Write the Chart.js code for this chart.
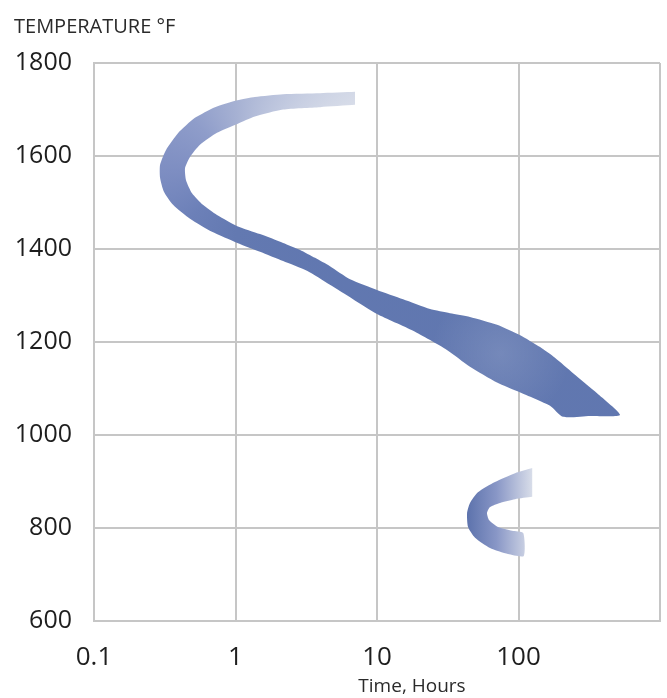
<!DOCTYPE html>
<html>
<head>
<meta charset="utf-8">
<script src="https://cdn.jsdelivr.net/npm/chart.js@4.4.1/dist/chart.umd.min.js"></script>
<style>
    html, body { margin: 0; padding: 0; background: #fff; }
    canvas { display: block; }
</style>
</head>
<body>
<canvas id="chart" width="667" height="698"></canvas>
<script>

// x axis: time in hours (log), y axis: temperature in °F
const timeTicks = [0.1, 1, 10, 100, 1000]
const timeTickLabels = ["0.1", "1", "10", "100", ""]
const tempMin = 600
const tempMax = 1800
const tempStep = 200

// upper band, [hours, °F] - outer edge from the top end round the nose down to the tip
const upperOuter = [
    [6.99, 1738], [3.96, 1735], [2.17, 1733], [1.37, 1727], [1.03, 1720], [0.716, 1705],
    [0.517, 1682], [0.392, 1649], [0.323, 1613], [0.293, 1581], [0.293, 1553], [0.312, 1523],
    [0.362, 1495], [0.477, 1465], [0.682, 1437], [1.03, 1413], [1.49, 1394], [2.17, 1374],
    [3.20, 1353], [4.65, 1323], [6.77, 1292], [10.0, 1260], [18.0, 1224], [31.2, 1183],
    [45.4, 1147], [70.5, 1113], [102, 1092], [167, 1063], [206, 1039], [320, 1041]
]
// ...and the inner edge from the tip back to the top end
const upperInner = [
    [522, 1043], [359, 1090], [243, 1133], [181, 1166], [142, 1189], [102, 1215],
    [70.5, 1237], [45.4, 1254], [32.8, 1262], [23.7, 1271], [15.3, 1292], [10.0, 1312],
    [6.45, 1335], [4.65, 1363], [3.65, 1381], [2.86, 1398], [2.17, 1413], [1.49, 1432],
    [1.03, 1449], [0.740, 1473], [0.589, 1495], [0.493, 1520], [0.447, 1548], [0.440, 1574],
    [0.477, 1598], [0.561, 1624], [0.740, 1650], [1.03, 1669], [1.37, 1685], [2.17, 1700],
    [3.96, 1705], [6.99, 1710]
]

// lower band (small nose around 800-900 °F)
const lowerOuter = [
    [125, 929], [94.5, 918], [68.2, 899], [51.7, 877], [45.4, 854], [43.3, 832],
    [44.0, 802], [49.3, 779], [62.9, 757], [84.3, 744], [109, 740]
]
const lowerInner = [
    [108, 789], [90, 794], [71.6, 802], [61.9, 817], [59.9, 832], [62.9, 845],
    [74, 854], [94.5, 862], [125, 867]
]

const toPoints = (edges) => edges.flat().map(p => ({ x: p[0], y: p[1] }))

const gridColor = "#c6c6c6"
const textColor = "#1e1e1e"
const fontFamily = "'Open Sans', 'Noto Sans', sans-serif"

// fills each outline with its gradient, using the points chart.js placed
const bandFill = {
    id: "bandFill",
    beforeDatasetsDraw(chart) {
        const ctx = chart.ctx
        const xs = chart.scales.x
        const ys = chart.scales.y
        chart.data.datasets.forEach((ds, i) => {
            const meta = chart.getDatasetMeta(i)
            const line = meta.dataset
            if (!line) return
            line.updateControlPoints(chart.chartArea, "x")
            ctx.save()
            ctx.beginPath()
            line.path(ctx)
            ctx.closePath()
            ctx.fillStyle = ds.shade(ctx, xs, ys)
            ctx.fill()
            if (ds.glow) {
                ctx.fillStyle = ds.glow(ctx, xs, ys)
                ctx.fill()
            }
            ctx.restore()
        })
    }
}

// "Time, Hours" sits a little right of the plot centre
const axisCaption = {
    id: "axisCaption",
    afterDraw(chart) {
        const ctx = chart.ctx
        const xs = chart.scales.x
        ctx.save()
        ctx.font = "19px " + fontFamily
        ctx.fillStyle = "#2a2a2a"
        ctx.textAlign = "center"
        ctx.textBaseline = "middle"
        ctx.fillText("Time, Hours", (xs.left + xs.right) / 2 + 35, 687)
        ctx.restore()
    }
}

const upperShade = (ctx, xs, ys) => {
    const g = ctx.createConicGradient(0, xs.getPixelForValue(1.08), ys.getPixelForValue(1570))
    g.addColorStop(0, "#5f76af")
    g.addColorStop(0.26, "#6379b1")
    g.addColorStop(0.38, "#6c80b8")
    g.addColorStop(0.5, "#7e8ec2")
    g.addColorStop(0.63, "#8f9dca")
    g.addColorStop(0.74, "#a6b1d3")
    g.addColorStop(0.84, "#c0c8df")
    g.addColorStop(0.92, "#d8dde9")
    g.addColorStop(1, "#dde1ec")
    return g
}

// faint light patch in the wide part of the band
const upperGlow = (ctx, xs, ys) => {
    const cx = xs.getPixelForValue(75)
    const cy = ys.getPixelForValue(1175)
    const g = ctx.createRadialGradient(cx, cy, 0, cx, cy, 70)
    g.addColorStop(0, "rgba(255,255,255,0.13)")
    g.addColorStop(1, "rgba(255,255,255,0)")
    return g
}

const lowerShade = (ctx, xs, ys) => {
    const g = ctx.createLinearGradient(xs.getPixelForValue(43), 0, xs.getPixelForValue(125), 0)
    g.addColorStop(0, "#5c72ac")
    g.addColorStop(0.45, "#8896c6")
    g.addColorStop(1, "#d8dde9")
    return g
}

const band = (edges, shade, glow) => ({
    data: toPoints(edges),
    shade: shade,
    glow: glow,
    showLine: true,
    borderColor: "transparent",
    borderWidth: 0,
    backgroundColor: "transparent",
    pointRadius: 0,
    pointHoverRadius: 0,
    tension: 0.2,
    fill: false
})

const config = {
    type: "scatter",
    data: {
        datasets: [
            band([upperOuter, upperInner], upperShade, upperGlow),
            band([lowerOuter, lowerInner], lowerShade)
        ]
    },
    options: {
        responsive: false,
        animation: false,
        events: [],
        layout: { padding: { left: 14, right: 7, top: 0, bottom: 0 } },
        plugins: {
            legend: { display: false },
            tooltip: { enabled: false },
            title: {
                display: true,
                text: "TEMPERATURE °F",
                align: "start",
                color: "#2a2a2a",
                font: { family: fontFamily, size: 20, weight: "normal" },
                padding: { top: 15, bottom: 24 }
            }
        },
        scales: {
            x: {
                type: "logarithmic",
                min: 0.1,
                max: 1000,
                afterBuildTicks: scale => {
                    scale.ticks = timeTicks.map(v => ({ value: v }))
                },
                afterFit: scale => {
                    scale.height = 77
                    scale.paddingLeft = 0
                    scale.paddingRight = 0
                },
                ticks: {
                    autoSkip: false,
                    maxRotation: 0,
                    padding: 21,
                    color: textColor,
                    font: { family: fontFamily, size: 26 },
                    callback: (value, i) => timeTickLabels[i]
                },
                grid: { color: gridColor, lineWidth: 2, drawTicks: false },
                border: { color: gridColor, width: 2 }
            },
            y: {
                min: tempMin,
                max: tempMax,
                afterFit: scale => {
                    scale.width = 80
                    scale.paddingTop = 0
                    scale.paddingBottom = 0
                },
                ticks: {
                    stepSize: tempStep,
                    padding: 22,
                    color: textColor,
                    font: { family: fontFamily, size: 25 },
                    callback: value => String(value)
                },
                grid: { color: gridColor, lineWidth: 2, drawTicks: false },
                border: { color: gridColor, width: 2 }
            }
        }
    },
    plugins: [bandFill, axisCaption]
}

const myChart = new Chart(document.getElementById("chart"), config)
</script>
</body>
</html>
